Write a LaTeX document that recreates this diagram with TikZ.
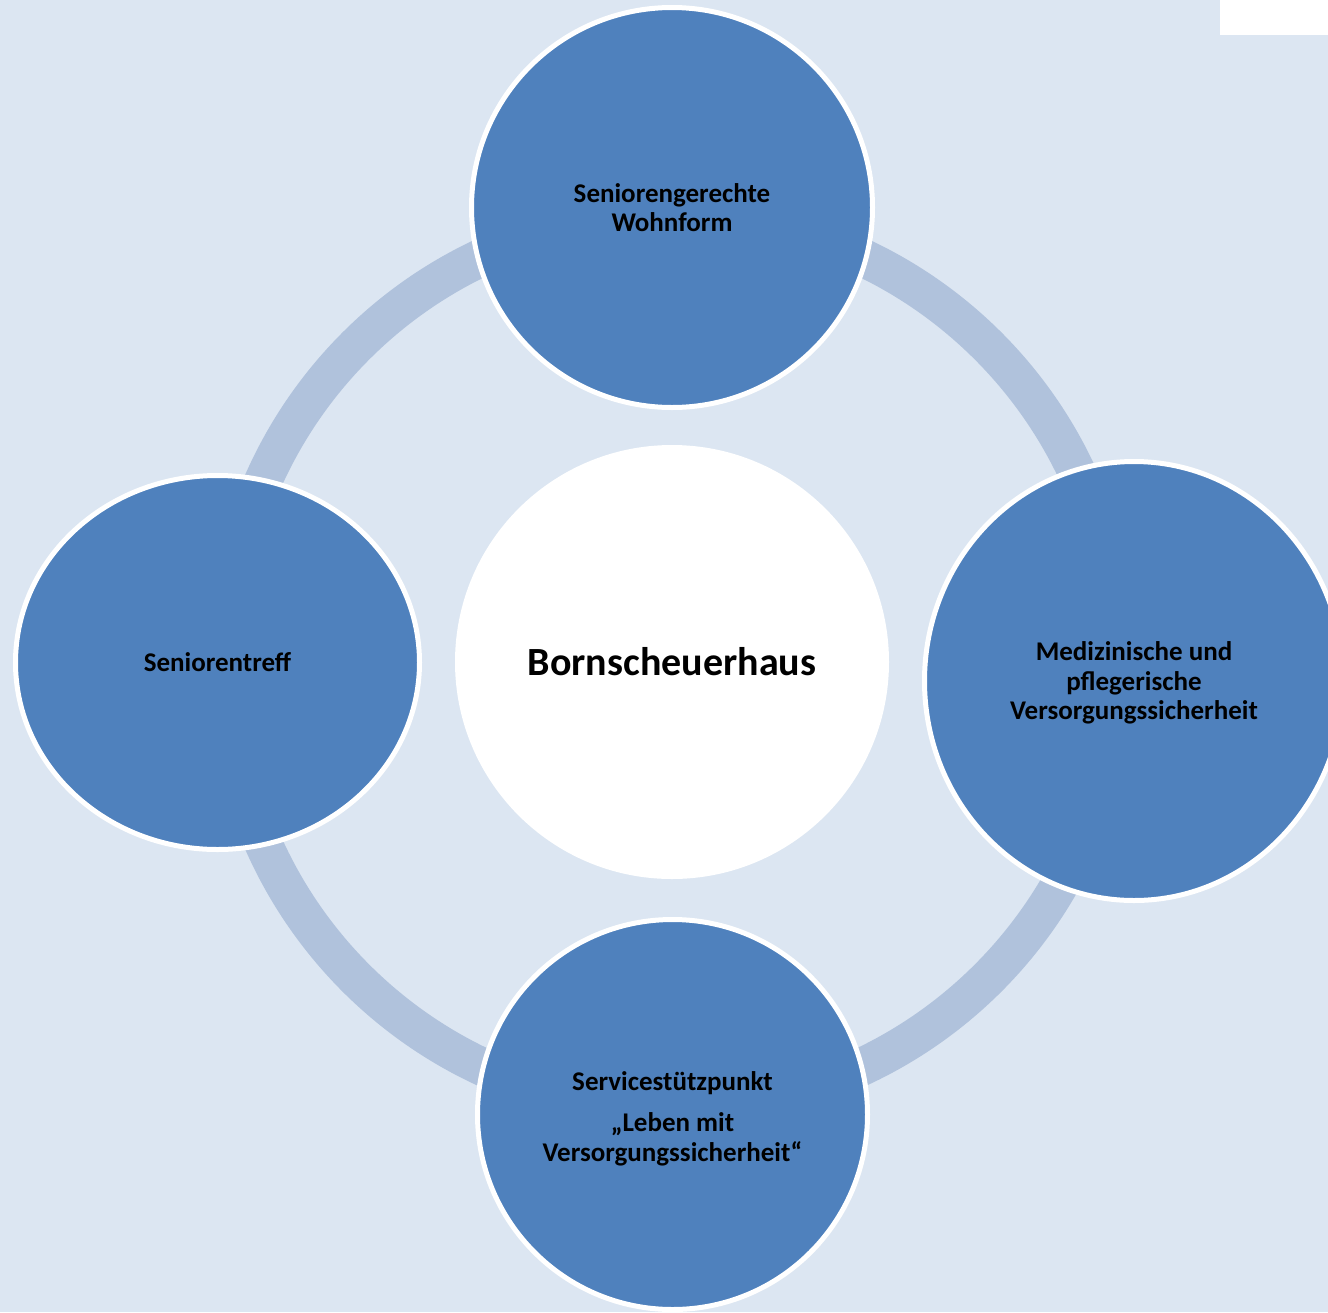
\documentclass[tikz,border=0pt]{standalone}
\usepackage{fontspec}
\setmainfont{Carlito}
\usetikzlibrary{shapes.geometric}
\definecolor{bgblue}{HTML}{DCE6F2}
\definecolor{ringblue}{HTML}{B0C2DC}
\definecolor{nodeblue}{HTML}{4F81BD}
\tikzset{
  outer/.style={ellipse, fill=nodeblue, draw=white, line width=5pt, inner sep=0pt,
    align=center, font=\fontsize{27}{29.5}\selectfont\bfseries, text=black},
  outertext/.style={align=center, font=\fontsize{27}{29.5}\selectfont\bfseries, text=black, inner sep=0pt},
  hub/.style={circle, fill=white, inner sep=0pt, minimum size=434pt,
    font=\fontsize{40}{48}\selectfont\bfseries, text=black}
}
\begin{document}
\begin{tikzpicture}[x=1pt,y=-1pt]
\useasboundingbox (0,0) rectangle (1328,1312);
\fill[bgblue] (0,0) rectangle (1328,1312);
\fill[white] (1220,0) rectangle (1328,35);
\coordinate (ringc) at (672,662);
\draw[ringblue, line width=38pt] (ringc) circle[radius=447pt];
\node[hub] (hub) at (672,662) {Bornscheuerhaus};
\node[outer, minimum width=401pt, minimum height=400pt] (wohn) at (672,207.5) {Seniorengerechte\\Wohnform};
\node[outer, minimum width=404pt, minimum height=374pt] (treff) at (217.5,662.5) {Seniorentreff};
\node[outer, minimum width=419pt, minimum height=439pt,
  label={[outertext, name=medtext, yshift=-2pt]center:Medizinische und\\pflegerische\\Versorgungssicherheit}] (med) at (1134,681) {};
\node[outer, minimum width=390pt, minimum height=390pt,
  label={[outertext, name=servtext, yshift=-4pt]center:Servicestützpunkt\\[12pt]„Leben mit\\Versorgungssicherheit“}] (serv) at (672.5,1114.5) {};
\end{tikzpicture}
\end{document}
